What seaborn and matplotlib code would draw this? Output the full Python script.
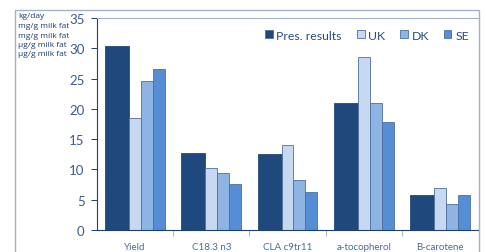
import seaborn as sns
import pandas as pd
import matplotlib.pyplot as plt
from matplotlib.patches import Rectangle

categories = ["Yield", "C18.3 n3", "CLA c9tr11", "a-tocopherol", "B-carotene"]
series = ["Pres. results", "UK", "DK", "SE"]
pres_values = [30.4, 12.7, 12.6, 21.0, 5.7]
uk_values = [18.5, 10.2, 14.1, 28.6, 6.95]
dk_values = [24.6, 9.4, 8.2, 21.0, 4.25]
se_values = [26.6, 7.6, 6.3, 17.8, 5.7]
unit_labels = ["kg/day", "mg/g milk fat", "mg/g milk fat", "µg/g milk fat", "µg/g milk fat"]
colors = ["#1F497D", "#C6D9F1", "#8EB4E3", "#558ED5"]

rows = []
for name, vals in zip(series, [pres_values, uk_values, dk_values, se_values]):
    for cat, v in zip(categories, vals):
        rows.append({"category": cat, "series": name, "value": v})
df = pd.DataFrame(rows)

sns.set_style("white")
plt.rcParams['font.family'] = ['Lato', 'DejaVu Sans']

W, H = 486, 253
fig = plt.figure(figsize=(W / 100, H / 100), dpi=100)
ax = fig.add_axes([97 / W, 1 - 231 / H, (478 - 97) / W, (231 - 19) / H])

sns.barplot(data=df, x="category", y="value", hue="series", palette=colors,
            order=categories, hue_order=series, width=0.785, ax=ax,
            edgecolor="#4F6F9F", linewidth=0.6, saturation=1)

# first series is drawn twice as wide as the others
group_w = 0.785
unit = group_w / 5
nser = len(series)
ncat = len(categories)
for i, bar in enumerate(ax.patches[:nser * ncat]):
    s = i // ncat
    c = i % ncat
    start = c - group_w / 2 + (0 if s == 0 else unit * (s + 1))
    bar.set_x(start)
    bar.set_width(2 * unit if s == 0 else unit)
    if s == 0:
        bar.set_edgecolor(colors[0])

ax.set_ylim(0, 35)
ax.set_xlim(-0.5, ncat - 0.5)
ax.set_yticks(range(0, 36, 5))
ax.set_xlabel("")
ax.set_ylabel("")

navy = "#1F3D6E"
frame = "#A3B2C8"
ax.spines["left"].set_color(navy)
ax.spines["bottom"].set_color(navy)
ax.spines["top"].set_color(frame)
ax.spines["right"].set_visible(False)
ax.tick_params(axis="y", length=4, width=0.7, color=navy, labelsize=9.5,
               labelcolor="#3D5C8C", pad=5, left=True)
ax.set_xticks(range(ncat))
ax.set_xticklabels(categories, fontsize=7, color="#4A6A9A")
ax.set_xticks([c + 0.5 for c in range(ncat - 1)], minor=True)
ax.tick_params(axis="x", which="major", length=0, pad=9)
ax.tick_params(axis="x", which="minor", length=4, width=0.7, color=frame, bottom=True)

leg = ax.legend(loc="upper right", ncol=4, frameon=False, fontsize=8.8,
                handlelength=0.65, handleheight=0.65, handletextpad=0.3,
                columnspacing=1.2, bbox_to_anchor=(0.995, 0.98), borderaxespad=0.2)
for t in leg.get_texts():
    t.set_color("#2A4A7E")

fig.patches.append(Rectangle((15 / W, -0.1), (479 - 15) / W, 1.1 - 11 / H,
                             transform=fig.transFigure, fill=False,
                             edgecolor=frame, linewidth=1))

for k, lab in enumerate(unit_labels):
    fig.text(18 / W, 1 - (17 + 9.5 * k) / H, lab, fontsize=6, color=navy,
             va="center", ha="left", family=["Open Sans", "DejaVu Sans"])

fig.savefig("out.png", dpi=100)
